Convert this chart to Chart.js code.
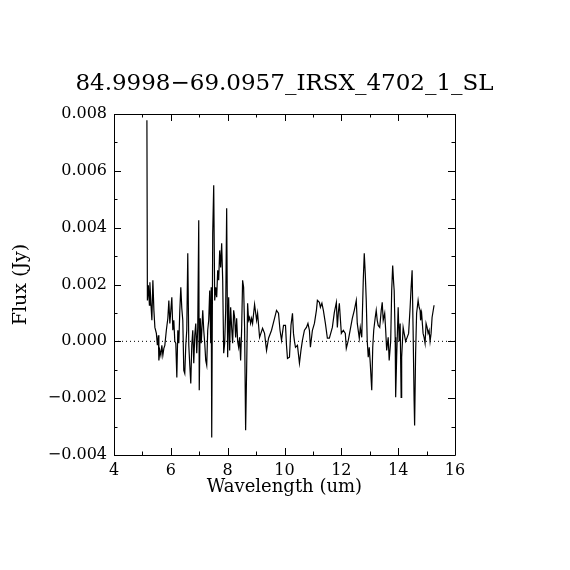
<!DOCTYPE html>
<html>
<head>
<meta charset="utf-8">
<script src="https://cdn.jsdelivr.net/npm/chart.js@4/dist/chart.umd.min.js"></script>
<style>
html,body{margin:0;padding:0;background:#fff;}
#wrap{width:570px;height:570px;}
</style>
</head>
<body>
<div id="wrap"><canvas id="c" width="570" height="570"></canvas></div>
<script>
const chartTitle = "84.9998\u221269.0957_IRSX_4702_1_SL";
const xLabel = "Wavelength (um)";
const yLabel = "Flux (Jy)";

const wavelength = [
5.158,5.175,5.21,5.246,5.263,5.298,5.333,5.368,5.404,5.439,
5.491,5.526,5.561,5.579,5.614,5.649,5.684,5.719,5.754,5.789,
5.842,5.895,5.93,5.965,6.0,6.035,6.07,6.105,6.14,6.175,
6.211,6.246,6.281,6.316,6.351,6.386,6.421,6.456,6.491,6.526,
6.561,6.596,6.632,6.667,6.702,6.737,6.772,6.807,6.842,6.877,
6.912,6.947,6.982,7.0,7.035,7.07,7.123,7.158,7.193,7.228,
7.263,7.298,7.333,7.368,7.404,7.421,7.439,7.474,7.509,7.544,
7.579,7.614,7.649,7.684,7.719,7.754,7.789,7.825,7.86,7.895,
7.93,7.965,8.0,8.035,8.07,8.105,8.14,8.175,8.211,8.246,
8.281,8.316,8.351,8.386,8.421,8.456,8.491,8.526,8.561,8.596,
8.632,8.667,8.702,8.737,8.772,8.807,8.842,8.877,8.947,9.018,
9.053,9.123,9.228,9.298,9.368,9.439,9.544,9.649,9.719,9.789,
9.842,9.895,9.965,10.035,10.07,10.105,10.175,10.228,10.281,10.316,
10.351,10.386,10.456,10.526,10.579,10.632,10.702,10.772,10.825,10.877,
10.912,10.982,11.053,11.123,11.158,11.228,11.263,11.316,11.368,11.439,
11.509,11.579,11.684,11.754,11.825,11.86,11.895,11.93,12.0,12.07,
12.14,12.175,12.246,12.386,12.456,12.526,12.561,12.632,12.667,12.719,
12.772,12.807,12.842,12.877,12.912,12.947,12.982,13.018,13.07,13.105,
13.14,13.193,13.228,13.263,13.298,13.351,13.404,13.439,13.474,13.526,
13.561,13.596,13.649,13.684,13.737,13.772,13.807,13.842,13.86,13.895,
13.912,13.947,14.0,14.035,14.07,14.105,14.123,14.175,14.211,14.263,
14.316,14.368,14.421,14.456,14.491,14.526,14.561,14.579,14.614,14.649,
14.702,14.737,14.772,14.789,14.825,14.877,14.912,14.947,14.982,15.018,
15.053,15.088,15.123,15.158,15.193,15.263
];

const flux = [
0.00778,0.00144,0.00197,0.00127,0.00208,0.00134,0.00074,0.00215,0.00109,0.00049,
0.00028,-0.00014,0.00021,-0.00067,-0.00032,-0.00049,-0.00014,-0.00049,-0.00025,-0.00014,
0.00039,0.00081,0.00144,0.00063,0.00109,0.00155,0.00039,0.00074,0.0,-0.00007,
-0.00127,0.00039,-0.00007,0.00109,0.0019,0.00116,0.00074,-0.00102,-0.00113,-0.00014,
0.00039,0.0031,-0.00014,-0.00084,-0.00148,-0.00014,0.00039,-0.00077,0.00021,0.00063,
-0.00042,0.00049,0.00426,-0.00172,0.00081,-0.00007,0.00109,0.00039,-0.00007,-0.00067,
-0.00084,0.00039,0.00074,0.00179,-0.00007,0.0019,-0.00338,0.0038,0.00549,0.00144,
0.0019,0.00155,0.0025,0.00215,0.0032,0.0026,0.00345,0.00215,-0.00042,-0.00007,
0.00109,0.00468,-0.00056,0.00155,-0.00032,0.0012,0.00049,-0.00007,0.00109,0.00084,
0.00014,0.00081,0.0,-0.00021,0.00014,-0.00067,0.00039,0.00215,0.0019,0.00049,
-0.00313,-0.00102,0.00134,0.00074,0.00084,0.00063,0.00081,0.00063,0.0013,0.00074,
0.00099,0.00014,0.00046,0.00028,-0.00032,0.00011,0.00039,0.00081,0.00109,0.00099,
0.00039,0.00004,0.00056,0.00056,-0.00014,-0.0006,-0.00056,0.00056,0.00099,0.00028,
0.0,-0.00021,-0.00014,-0.00077,-0.00032,0.00004,0.00039,0.00049,0.00063,0.00039,
-0.00021,0.00039,0.00063,0.00109,0.00144,0.00137,0.0012,0.00134,0.00109,0.00063,
0.00011,0.00011,0.00049,0.00102,0.00137,0.00049,0.00102,0.00134,0.00028,0.00039,
0.00028,-0.00025,0.00004,0.00081,0.00109,0.00144,0.00063,0.00011,0.00049,0.00014,
0.00215,0.0031,0.00239,0.00144,0.0,-0.00056,-0.00021,-0.00077,-0.00172,-0.00021,
0.00039,0.00084,0.00109,0.00074,0.00056,0.00049,0.00109,0.00137,0.00074,0.00099,
0.00039,-0.00032,0.00014,-0.00067,0.0,0.00179,0.00267,0.00204,0.00179,0.00014,
-0.00197,-0.00056,0.0012,0.0,0.00063,-0.00197,-0.00056,0.00049,0.00028,0.0,
0.00014,0.00028,0.0012,0.0019,0.0025,0.00039,-0.00208,-0.00296,-0.00042,0.00099,
0.00144,0.0012,0.00109,0.00074,0.00099,0.00028,0.00014,-0.00007,0.00063,0.00049,
0.00028,0.00039,0.0,0.00028,0.00084,0.00127
];

const xRange = [4, 16];
const yRange = [-0.004, 0.008];
const xTickValues = [4, 6, 8, 10, 12, 14, 16];
const xMinorValues = [5, 7, 9, 11, 13, 15];
const yTickValues = [-0.004, -0.002, 0.000, 0.002, 0.004, 0.006, 0.008];
const yMinorValues = [-0.003, -0.001, 0.001, 0.003, 0.005, 0.007];
const zeroLine = [0, 0];

const spectrum = wavelength.map((w, i) => ({x: w, y: flux[i]}));
const zeroPoints = xRange.map((w, i) => ({x: w, y: zeroLine[i]}));

const FONT = "'DejaVu Serif', 'Liberation Serif', serif";

const titlePlugin = {
  id: 'plotTitle',
  afterDraw(chart) {
    const {ctx, chartArea: a} = chart;
    ctx.save();
    ctx.fillStyle = '#000';
    ctx.font = "23px " + FONT;
    ctx.textAlign = 'center';
    ctx.textBaseline = 'alphabetic';
    ctx.fillText(chartTitle, (a.left + a.right) / 2, a.top - 24);
    ctx.restore();
  }
};

const framePlugin = {
  id: 'frameTicks',
  afterDatasetsDraw(chart) {
    const {ctx, chartArea: a, scales} = chart;
    const xs = scales.x, ys = scales.y;
    ctx.save();
    ctx.strokeStyle = '#000';
    ctx.lineWidth = 1;
    ctx.beginPath();
    ctx.rect(Math.round(a.left) + 0.5, Math.round(a.top) + 0.5,
             Math.round(a.right - a.left), Math.round(a.bottom - a.top));
    ctx.stroke();
    const MAJ = 7, MIN = 3.5;
    ctx.beginPath();
    const xt = (v, len) => {
      const px = Math.round(xs.getPixelForValue(v)) + 0.5;
      ctx.moveTo(px, a.bottom); ctx.lineTo(px, a.bottom - len);
      ctx.moveTo(px, a.top); ctx.lineTo(px, a.top + len);
    };
    const yt = (v, len) => {
      const py = Math.round(ys.getPixelForValue(v)) + 0.5;
      ctx.moveTo(a.left, py); ctx.lineTo(a.left + len, py);
      ctx.moveTo(a.right, py); ctx.lineTo(a.right - len, py);
    };
    xTickValues.forEach(v => xt(v, MAJ));
    xMinorValues.forEach(v => xt(v, MIN));
    yTickValues.forEach(v => yt(v, MAJ));
    yMinorValues.forEach(v => yt(v, MIN));
    ctx.stroke();
    ctx.restore();
  }
};

new Chart(document.getElementById('c'), {
  type: 'line',
  data: {
    datasets: [
      {
        label: 'Flux',
        data: spectrum,
        borderColor: '#000',
        borderWidth: 1.2,
        pointRadius: 0,
        tension: 0,
        fill: false
      },
      {
        label: 'zero',
        data: zeroPoints,
        borderColor: '#000',
        borderWidth: 1,
        borderDash: [1, 3],
        pointRadius: 0,
        fill: false
      }
    ]
  },
  options: {
    responsive: false,
    animation: false,
    devicePixelRatio: 1,
    layout: {padding: {left: 0, right: 115, top: 114, bottom: 0}},
    plugins: {
      legend: {display: false},
      tooltip: {enabled: false},
      title: {display: false}
    },
    scales: {
      x: {
        type: 'linear',
        min: xRange[0], max: xRange[1],
        afterFit(s) { s.height = 115; },
        afterBuildTicks(s) { s.ticks = xTickValues.map(v => ({value: v})); },
        grid: {display: false, drawTicks: false},
        border: {display: false},
        ticks: {
          color: '#000', padding: 6, maxRotation: 0, autoSkip: false,
          font: {family: FONT, size: 16},
          callback: v => String(v)
        },
        title: {
          display: true, text: xLabel, color: '#000',
          font: {family: FONT, size: 18},
          padding: {top: 0, bottom: 72}
        }
      },
      y: {
        type: 'linear',
        min: yRange[0], max: yRange[1],
        afterFit(s) { s.width = 114; },
        afterBuildTicks(s) { s.ticks = yTickValues.map(v => ({value: v})); },
        grid: {display: false, drawTicks: false},
        border: {display: false},
        ticks: {
          color: '#000', padding: 7, autoSkip: false,
          font: {family: FONT, size: 16},
          callback: v => (v < -1e-9 ? '\u2212' : '') + Math.abs(v).toFixed(3)
        },
        title: {
          display: true, text: yLabel, color: '#000',
          font: {family: FONT, size: 19},
          padding: {top: 10, bottom: 0}
        }
      }
    }
  },
  plugins: [framePlugin, titlePlugin]
});
</script>
</body>
</html>
